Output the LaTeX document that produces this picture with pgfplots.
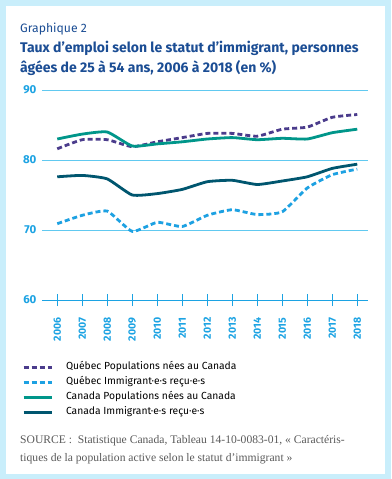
\documentclass[border=0pt]{standalone}
\usepackage{fontspec}
\setmainfont{Fira Sans}
\newfontfamily\srcfont{Liberation Serif}
\usepackage{pgfplots}
\pgfplotsset{compat=1.18}
\definecolor{bgblue}{HTML}{C9EEFB}
\definecolor{qpurple}{HTML}{4B3C8C}
\definecolor{qblue}{HTML}{1DA1E2}
\definecolor{cteal}{HTML}{00968A}
\definecolor{cdark}{HTML}{00566F}
\definecolor{titleblue}{HTML}{1B4D94}
\definecolor{tickblue}{HTML}{1CA3E3}
\definecolor{gridblue}{HTML}{61C9F0}
\definecolor{srcgray}{HTML}{5A5A5A}
\begin{document}
\begin{tikzpicture}
\fill[bgblue] (0pt,0pt) rectangle (391pt,-479pt);
\fill[white] (6pt,-6pt) rectangle (385pt,-474pt);
\node[anchor=base west, inner sep=0pt, text=titleblue, font=\fontsize{12.2}{14}\selectfont] at (20pt,-32pt) {Graphique 2};
\node[anchor=base west, inner sep=0pt, text=titleblue, font=\fontsize{14}{16}\selectfont\bfseries] at (20pt,-52pt) {Taux d’emploi selon le statut d’immigrant, personnes};
\node[anchor=base west, inner sep=0pt, text=titleblue, font=\fontsize{14}{16}\selectfont\bfseries] at (20pt,-72pt) {âgées de 25 à 54 ans, 2006 à 2018 (en \%)};
\begin{axis}[
  at={(42pt,-300pt)}, anchor=south west,
  scale only axis, width=326pt, height=210pt,
  xmin=2005.39, xmax=2018.43, ymin=60, ymax=90,
  axis x line=bottom, axis y line=left,
  x axis line style={draw=tickblue, line width=0.8pt, -},
  y axis line style={draw=none},
  xtick={2006,2007,2008,2009,2010,2011,2012,2013,2014,2015,2016,2017,2018},
  xticklabels={2006,2007,2008,2009,2010,2011,2012,2013,2014,2015,2016,2017,2018},
  ytick={60,70,80,90},
  yticklabels={60,70,80,90},
  ymajorgrids, grid style={draw=gridblue, line width=0.8pt},
  major tick length=12pt, tick align=center,
  xtick style={draw=tickblue, line width=0.6pt},
  ytick style={draw=none},
  xticklabel style={rotate=90, anchor=east, font=\fontsize{10.5}{12}\selectfont\bfseries, text=tickblue, xshift=-8pt},
  yticklabel style={font=\fontsize{11.5}{12}\selectfont\bfseries, text=tickblue, xshift=4pt},
  clip=false,
  legend style={at={(0,0)}, anchor=north west, xshift=-20pt, yshift=-62pt, draw=none, fill=none, inner sep=0pt,
    font=\fontsize{10.3}{12}\selectfont, row sep=5pt,
    nodes={inner sep=0pt, text height=7.5pt, text depth=2.5pt},
    /tikz/every odd column/.append style={column sep=13pt}},
  legend cell align=left,
  legend image code/.code={\draw[#1] (0pt,0pt) -- (28pt,0pt);},
]
\addplot[qpurple, line width=2.8pt, dash pattern=on 5pt off 3pt, smooth, tension=0.3] coordinates {
(2006,81.6)(2007,82.9)(2008,82.9)(2009,81.9)(2010,82.6)(2011,83.2)(2012,83.8)(2013,83.8)(2014,83.4)(2015,84.4)(2016,84.7)(2017,86.1)(2018,86.5)};
\addlegendentry{Québec Populations nées au Canada}
\addplot[qblue, line width=2.8pt, dash pattern=on 5pt off 3pt, smooth, tension=0.3] coordinates {
(2006,70.9)(2007,72.1)(2008,72.7)(2009,69.8)(2010,71.1)(2011,70.5)(2012,72.1)(2013,72.9)(2014,72.2)(2015,72.6)(2016,76.0)(2017,77.9)(2018,78.7)};
\addlegendentry{Québec Immigrant·e·s reçu·e·s}
\addplot[cteal, line width=2.8pt, smooth, tension=0.3] coordinates {
(2006,83.0)(2007,83.7)(2008,84.0)(2009,82.0)(2010,82.3)(2011,82.6)(2012,83.0)(2013,83.2)(2014,82.9)(2015,83.1)(2016,83.0)(2017,83.9)(2018,84.4)};
\addlegendentry{Canada Populations nées au Canada}
\addplot[cdark, line width=2.8pt, smooth, tension=0.3] coordinates {
(2006,77.6)(2007,77.8)(2008,77.3)(2009,75.0)(2010,75.2)(2011,75.8)(2012,76.9)(2013,77.1)(2014,76.5)(2015,77.0)(2016,77.6)(2017,78.8)(2018,79.4)};
\addlegendentry{Canada Immigrant·e·s reçu·e·s}
\end{axis}
\node[anchor=base west, inner sep=0pt, text=srcgray, font=\srcfont\fontsize{11.6}{12}\selectfont] at (20pt,-443pt) {SOURCE :~~Statistique Canada, Tableau 14-10-0083-01, «~Caractéris-};
\node[anchor=base west, inner sep=0pt, text=srcgray, font=\srcfont\fontsize{11.6}{12}\selectfont] at (20pt,-461pt) {tiques de la population active selon le statut d’immigrant~»};
\end{tikzpicture}
\end{document}
